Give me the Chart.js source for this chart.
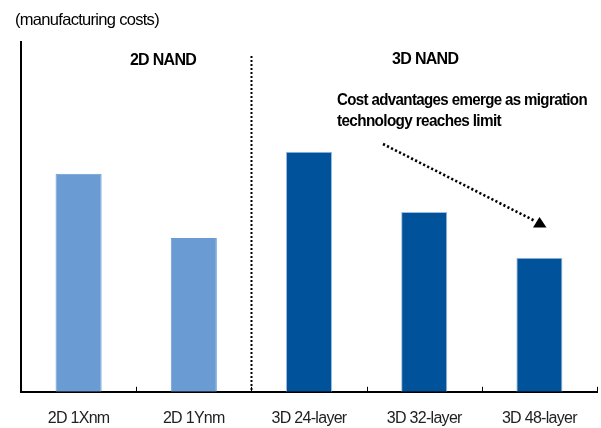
<!DOCTYPE html>
<html>
<head>
<meta charset="utf-8">
<script src="https://cdn.jsdelivr.net/npm/chart.js@4"></script>
<style>
  html, body { margin: 0; padding: 0; background: #fff; }
  #wrap { width: 601px; height: 428px; position: relative; }
</style>
</head>
<body>
<div id="wrap"><canvas id="costChart" width="601" height="428"></canvas></div>
<script>
// NAND generations and relative manufacturing cost (no units on the axis)
const categories = ['2D 1Xnm', '2D 1Ynm', '3D 24-layer', '3D 32-layer', '3D 48-layer'];
const costValues = [62.3, 44.0, 68.6, 51.4, 38.3];
const barColors = ['#6a9cd3', '#6a9cd3', '#00529b', '#00529b', '#00529b'];
const barBorders = ['#6a9cd3', '#6a9cd3', '#9dbbe0', '#9dbbe0', '#9dbbe0'];

const FONT = '"Liberation Sans", Arial, sans-serif';
const SPACING = '-0.7px';

// Tight letter spacing for all canvas text
const tightText = {
  id: 'tightText',
  beforeDraw(chart) {
    chart.ctx.letterSpacing = SPACING;
  }
};

// Small upward ticks between categories, the 2D/3D divider and the text notes
const notes = {
  id: 'notes',
  afterDraw(chart) {
    const ctx = chart.ctx;
    const x = chart.scales.x;
    const area = chart.chartArea;
    const half = (x.getPixelForValue(1) - x.getPixelForValue(0)) / 2;

    ctx.save();
    ctx.letterSpacing = SPACING;

    // category separator ticks
    ctx.strokeStyle = '#000';
    ctx.lineWidth = 1;
    for (let i = 1; i <= categories.length; i++) {
      const px = Math.round(x.getPixelForValue(i) - half) + 0.5;
      ctx.beginPath();
      ctx.moveTo(px, area.bottom);
      ctx.lineTo(px, area.bottom - 5);
      ctx.stroke();
    }

    // dotted divider between 2D and 3D
    const divX = Math.round(x.getPixelForValue(1) + half) + 0.5;
    ctx.setLineDash([2, 2]);
    ctx.lineWidth = 2;
    ctx.beginPath();
    ctx.moveTo(divX, 56);
    ctx.lineTo(divX, area.bottom);
    ctx.stroke();

    // group headings
    ctx.fillStyle = '#000';
    ctx.textBaseline = 'middle';
    ctx.textAlign = 'center';
    ctx.font = 'bold 16px ' + FONT;
    ctx.fillText('2D NAND', 163, 61);
    ctx.fillText('3D NAND', x.getPixelForValue(3) + 1, 60);

    // note text, squeezed to the same width as the heading block
    ctx.textAlign = 'left';
    ctx.font = 'bold 16.5px ' + FONT;
    ctx.fillText('Cost advantages emerge as migration', 337, 100, 250);
    ctx.fillText('technology reaches limit', 337, 121, 164);

    // dotted arrow toward the 48-layer bar
    ctx.setLineDash([2.2, 2.3]);
    ctx.lineWidth = 2.6;
    ctx.beginPath();
    ctx.moveTo(383, 144);
    ctx.lineTo(535, 221);
    ctx.stroke();
    ctx.setLineDash([]);
    ctx.beginPath();
    ctx.moveTo(539.5, 217);
    ctx.lineTo(546.5, 227.5);
    ctx.lineTo(533, 227.5);
    ctx.closePath();
    ctx.fill();

    // axis caption
    ctx.font = '16.5px ' + FONT;
    ctx.fillText('(manufacturing costs)', 15, 20, 144);
    ctx.restore();
  }
};

new Chart(document.getElementById('costChart'), {
  type: 'bar',
  data: {
    labels: categories,
    datasets: [{
      data: costValues,
      backgroundColor: barColors,
      borderColor: barBorders,
      borderWidth: 1,
      barPercentage: 0.4,
      categoryPercentage: 1.0
    }]
  },
  options: {
    responsive: false,
    animation: false,
    devicePixelRatio: 1,
    // the x axis reserves tick padding on both sides of its labels,
    // so pull the bottom edge back in to keep the labels close to the edge
    layout: { padding: { left: 21, right: 4, top: 42, bottom: -17 } },
    plugins: {
      legend: { display: false },
      tooltip: { enabled: false }
    },
    scales: {
      x: {
        offset: true,
        grid: { display: false, drawTicks: false },
        border: { display: true, color: '#000', width: 2 },
        ticks: {
          color: '#222',
          padding: 17,
          font: { family: FONT, size: 16 },
          maxRotation: 0
        }
      },
      y: {
        min: 0,
        max: 100,
        grid: { display: false, drawTicks: false },
        border: { display: true, color: '#000', width: 2 },
        ticks: { display: false }
      }
    }
  },
  plugins: [tightText, notes]
});
</script>
</body>
</html>
